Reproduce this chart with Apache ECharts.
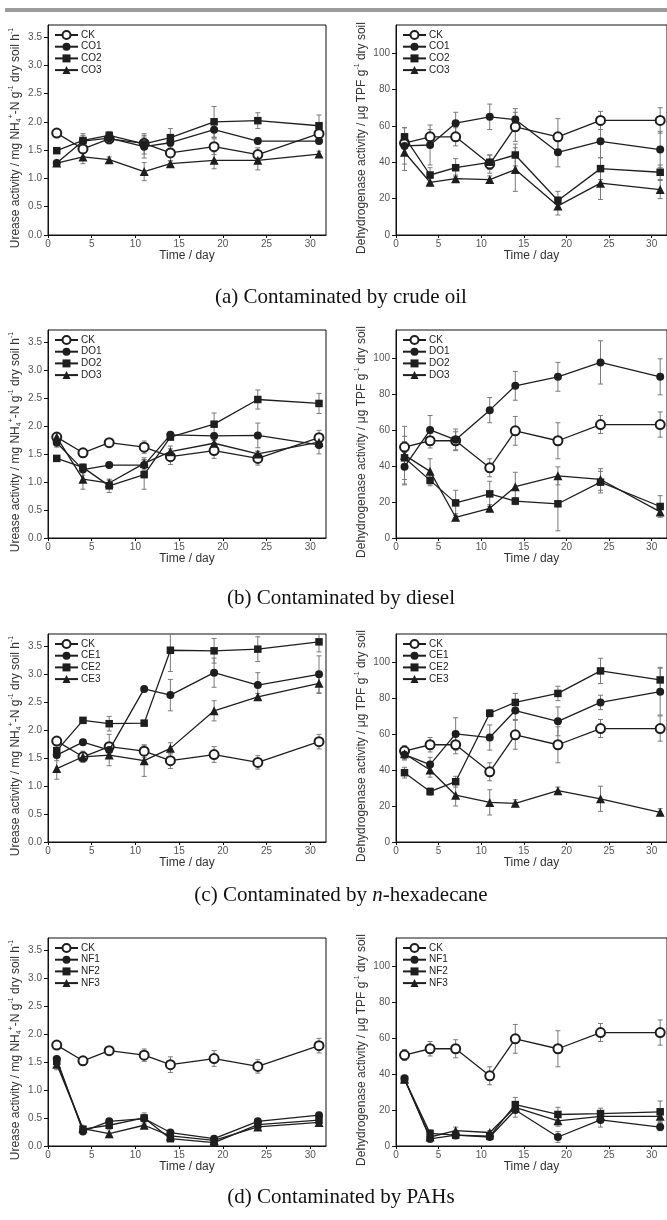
<!DOCTYPE html>
<html>
<head>
<meta charset="utf-8">
<script src="https://cdn.jsdelivr.net/npm/echarts@6/dist/echarts.min.js"></script>
<style>
  html, body { margin: 0; padding: 0; background: #fff; }
  #chart { width: 667px; height: 1220px; }
</style>
</head>
<body>
<div id="chart"></div>
<script>
// Sampling days
const days = [1, 4, 7, 11, 14, 19, 24, 31];

// Uncontaminated control (shared by every panel)
const ckUrease     = [1.80, 1.52, 1.70, 1.62, 1.45, 1.56, 1.42, 1.79];
const ckUreaseErr  = [0.04, 0.03, 0.04, 0.11, 0.14, 0.14, 0.12, 0.13];
const ckDehyd      = [50.5, 54, 54, 39, 59.5, 54, 63, 63];
const ckDehydErr   = [3, 4, 5, 5, 8, 10, 5, 7];

// (a) crude oil
const co1Urease    = [1.27, 1.66, 1.71, 1.56, 1.63, 1.86, 1.66, 1.66];
const co1UreaseErr = [0.04, 0.10, 0.10, 0.20, 0.10, 0.14, 0.05, 0.05];
const co2Urease    = [1.49, 1.67, 1.76, 1.61, 1.72, 2.00, 2.02, 1.93];
const co2UreaseErr = [0.04, 0.12, 0.07, 0.18, 0.16, 0.27, 0.14, 0.19];
const co3Urease    = [1.27, 1.38, 1.33, 1.12, 1.26, 1.32, 1.32, 1.43];
const co3UreaseErr = [0.05, 0.12, 0.05, 0.16, 0.05, 0.15, 0.17, 0.05];
const co1Dehyd     = [49, 49.5, 61.5, 65, 63.5, 45.5, 51.5, 47];
const co1DehydErr  = [10, 11, 6, 7, 6, 8, 9, 10];
const co2Dehyd     = [54, 33, 37, 40, 44, 19, 36.5, 34.5];
const co2DehydErr  = [5, 4, 5, 4, 6, 5, 6, 4];
const co3Dehyd     = [45.5, 29, 31, 30.5, 36, 16, 28.5, 25];
const co3DehydErr  = [10, 2, 2, 2, 12, 5, 9, 5];

// (b) diesel
const do1Urease    = [1.70, 1.22, 1.30, 1.30, 1.84, 1.82, 1.83, 1.66];
const do1UreaseErr = [0.08, 0.10, 0.04, 0.10, 0.05, 0.05, 0.22, 0.16];
const do2Urease    = [1.42, 1.26, 0.93, 1.13, 1.80, 2.03, 2.47, 2.40];
const do2UreaseErr = [0.03, 0.05, 0.12, 0.26, 0.05, 0.20, 0.17, 0.18];
const do3Urease    = [1.80, 1.05, 0.98, 1.33, 1.54, 1.69, 1.50, 1.71];
const do3UreaseErr = [0.05, 0.18, 0.05, 0.10, 0.10, 0.05, 0.05, 0.10];
const do1Dehyd     = [39.5, 60, 54.5, 71, 84.5, 89.5, 97.5, 89.5];
const do1DehydErr  = [10, 8, 6, 7, 8, 8, 12, 10];
const do2Dehyd     = [44.5, 32, 19.5, 24.5, 20.5, 19, 31, 17.5];
const do2DehydErr  = [12, 3, 7, 7, 2, 15, 6, 6];
const do3Dehyd     = [46, 37, 11.5, 16.5, 28.5, 34.5, 32.5, 14.5];
const do3DehydErr  = [16, 7, 2, 2, 8, 5, 6, 2];

// (c) n-hexadecane
const ce1Urease    = [1.55, 1.78, 1.64, 2.73, 2.62, 3.02, 2.80, 2.99];
const ce1UreaseErr = [0.10, 0.05, 0.28, 0.04, 0.28, 0.26, 0.22, 0.33];
const ce2Urease    = [1.63, 2.17, 2.11, 2.12, 3.42, 3.41, 3.44, 3.57];
const ce2UreaseErr = [0.10, 0.04, 0.13, 0.04, 0.38, 0.22, 0.22, 0.18];
const ce3Urease    = [1.31, 1.52, 1.55, 1.45, 1.67, 2.34, 2.59, 2.83];
const ce3UreaseErr = [0.19, 0.10, 0.05, 0.28, 0.10, 0.18, 0.06, 0.18];
const ce1Dehyd     = [48.5, 43, 60, 58, 73, 67, 77.5, 83.5];
const ce1DehydErr  = [3, 4, 9, 7, 5, 8, 4, 13];
const ce2Dehyd     = [38.5, 28, 33.5, 71.5, 77.5, 82.5, 95, 90];
const ce2DehydErr  = [3, 2, 3, 2, 5, 4, 7, 7];
const ce3Dehyd     = [49, 40, 26, 22, 21.5, 28.5, 24, 16.5];
const ce3DehydErr  = [3, 4, 6, 7, 2, 2, 7, 2];

// (d) PAHs
const nf1Urease    = [1.55, 0.26, 0.44, 0.49, 0.24, 0.13, 0.44, 0.55];
const nf1UreaseErr = [0.05, 0.03, 0.04, 0.10, 0.04, 0.03, 0.04, 0.05];
const nf2Urease    = [1.51, 0.30, 0.37, 0.50, 0.13, 0.06, 0.38, 0.46];
const nf2UreaseErr = [0.04, 0.03, 0.04, 0.06, 0.04, 0.03, 0.04, 0.04];
const nf3Urease    = [1.46, 0.31, 0.22, 0.37, 0.18, 0.10, 0.34, 0.42];
const nf3UreaseErr = [0.10, 0.03, 0.07, 0.04, 0.04, 0.03, 0.04, 0.05];
const nf1Dehyd     = [37.5, 4, 6, 5, 20, 5, 14.5, 10.5];
const nf1DehydErr  = [2, 2, 2, 1, 4, 3, 4, 2];
const nf2Dehyd     = [37, 7, 6, 5.5, 23, 17.5, 18, 19];
const nf2DehydErr  = [2, 2, 2, 1, 4, 4, 3, 6];
const nf3Dehyd     = [37, 5, 8.5, 7.5, 21.5, 14, 16.5, 16.5];
const nf3DehydErr  = [2, 2, 2, 1, 3, 3, 3, 3];

// Panel captions and treatment names
const captions = [
  '(a) Contaminated by crude oil',
  '(b) Contaminated by diesel',
  '(c) Contaminated by {i|n}-hexadecane',
  '(d) Contaminated by PAHs'
];
const treatmentNames = [
  ['CK', 'CO1', 'CO2', 'CO3'],
  ['CK', 'DO1', 'DO2', 'DO3'],
  ['CK', 'CE1', 'CE2', 'CE3'],
  ['CK', 'NF1', 'NF2', 'NF3']
];

const ureaseSets = [
  [[ckUrease, ckUreaseErr], [co1Urease, co1UreaseErr], [co2Urease, co2UreaseErr], [co3Urease, co3UreaseErr]],
  [[ckUrease, ckUreaseErr], [do1Urease, do1UreaseErr], [do2Urease, do2UreaseErr], [do3Urease, do3UreaseErr]],
  [[ckUrease, ckUreaseErr], [ce1Urease, ce1UreaseErr], [ce2Urease, ce2UreaseErr], [ce3Urease, ce3UreaseErr]],
  [[ckUrease, ckUreaseErr], [nf1Urease, nf1UreaseErr], [nf2Urease, nf2UreaseErr], [nf3Urease, nf3UreaseErr]]
];
const dehydSets = [
  [[ckDehyd, ckDehydErr], [co1Dehyd, co1DehydErr], [co2Dehyd, co2DehydErr], [co3Dehyd, co3DehydErr]],
  [[ckDehyd, ckDehydErr], [do1Dehyd, do1DehydErr], [do2Dehyd, do2DehydErr], [do3Dehyd, do3DehydErr]],
  [[ckDehyd, ckDehydErr], [ce1Dehyd, ce1DehydErr], [ce2Dehyd, ce2DehydErr], [ce3Dehyd, ce3DehydErr]],
  [[ckDehyd, ckDehydErr], [nf1Dehyd, nf1DehydErr], [nf2Dehyd, nf2DehydErr], [nf3Dehyd, nf3DehydErr]]
];

// ---- styling / layout ----
const SANS = 'Liberation Sans, Arial, sans-serif';
const SERIF = 'Liberation Serif, Times New Roman, serif';
const LINE_COLOR = '#1e1e1e';
const ERR_COLOR = '#7a7a7a';
const symbols = ['emptyCircle', 'circle', 'rect', 'triangle'];
const symbolSizes = [9, 8, 7.5, 9];

const gridTops = [25, 330, 634, 938];
const gridHeights = [210, 208, 208, 208];
const captionY = [297, 598, 895, 1197];
const leftX = 48, rightX = 396, plotW = 278;

const ureaseName = '{t|Urease activity / mg NH}{sb|4}{sp|+}{t|-N g}{sp|-1}{t| dry soil h}{sp|-1}';
const dehydName = '{t|Dehydrogenase activity / \u03bcg TPF g}{sp|-1}{t| dry soil}';
const nameRich = {
  t:  { fontSize: 12, fontFamily: SANS, color: '#333', lineHeight: 15, verticalAlign: 'middle' },
  sp: { fontSize: 7,  fontFamily: SANS, color: '#333', lineHeight: 8,  verticalAlign: 'top' },
  sb: { fontSize: 7,  fontFamily: SANS, color: '#333', lineHeight: 8,  verticalAlign: 'bottom' }
};

function renderErrorBar(params, api) {
  const x = api.value(0), y = api.value(1), e = api.value(2);
  const top = api.coord([x, y + e]);
  const bot = api.coord([x, y - e]);
  const w = 2.5;
  const st = { stroke: ERR_COLOR, lineWidth: 1 };
  return {
    type: 'group',
    children: [
      { type: 'line', shape: { x1: top[0], y1: top[1], x2: bot[0], y2: bot[1] }, style: st },
      { type: 'line', shape: { x1: top[0] - w, y1: top[1], x2: top[0] + w, y2: top[1] }, style: st },
      { type: 'line', shape: { x1: bot[0] - w, y1: bot[1], x2: bot[0] + w, y2: bot[1] }, style: st }
    ]
  };
}

const grids = [], xAxes = [], yAxes = [], series = [], legends = [], graphics = [];

graphics.push({
  type: 'rect', shape: { x: 5, y: 8, width: 662, height: 4 },
  style: { fill: '#9c9c9c' }, silent: true
});

function addPanel(row, isRight) {
  const idx = grids.length;
  const top = gridTops[row];
  const left = isRight ? rightX : leftX;
  grids.push({
    left: left, top: top, width: plotW, height: gridHeights[row],
    show: true, borderColor: '#111', borderWidth: 1, backgroundColor: 'transparent',
    containLabel: false
  });
  xAxes.push({
    gridIndex: idx, type: 'value', min: 0, max: 31.8, interval: 5,
    name: 'Time / day', nameLocation: 'middle', nameGap: 14,
    nameTextStyle: { fontSize: 12, fontFamily: SANS, color: '#333' },
    axisLine: { show: true, lineStyle: { color: '#111', width: 1 } },
    axisTick: { show: true, inside: false, length: 3, lineStyle: { color: '#111' } },
    axisLabel: { fontSize: 10, fontFamily: SANS, color: '#555', margin: 4, showMaxLabel: false },
    splitLine: { show: false }
  });
  yAxes.push({
    gridIndex: idx, type: 'value', min: 0,
    max: isRight ? 115.5 : 3.71, interval: isRight ? 20 : 0.5,
    name: isRight ? dehydName : ureaseName,
    nameLocation: 'middle', nameGap: isRight ? 27 : 25, nameRotate: 90,
    nameTextStyle: { rich: nameRich, padding: [0, 16, 0, 0] },
    axisLine: { show: true, lineStyle: { color: '#111', width: 1 } },
    axisTick: { show: true, inside: false, length: 4, lineStyle: { color: '#111' } },
    axisLabel: {
      fontSize: 10, fontFamily: SANS, color: '#555', margin: 6, showMaxLabel: false,
      formatter: isRight ? (v) => String(Math.round(v)) : (v) => v.toFixed(1)
    },
    splitLine: { show: false }
  });

  const sets = isRight ? dehydSets[row] : ureaseSets[row];
  const names = treatmentNames[row];
  sets.forEach(([vals, errs]) => {
    series.push({
      type: 'custom', xAxisIndex: idx, yAxisIndex: idx, z: 1, clip: true,
      renderItem: renderErrorBar,
      encode: { x: 0, y: 1 },
      data: days.map((d, i) => [d, vals[i], errs[i]]),
      silent: true
    });
  });
  sets.forEach(([vals], g) => {
    series.push({
      type: 'line', name: names[g], xAxisIndex: idx, yAxisIndex: idx, z: 3 + g,
      data: days.map((d, i) => [d, vals[i]]),
      symbol: symbols[g], symbolSize: symbolSizes[g], showAllSymbol: true,
      lineStyle: { color: LINE_COLOR, width: 1.3 },
      itemStyle: { color: LINE_COLOR, borderColor: LINE_COLOR, borderWidth: g === 0 ? 0.9 : 0 },
      emphasis: { disabled: true }
    });
  });
  legends.push({
    left: left + 6, top: top + 5, orient: 'vertical',
    itemWidth: 23, itemHeight: 10, itemGap: 1.7, padding: 0,
    selectedMode: false,
    data: names,
    textStyle: { fontSize: 10, fontFamily: SANS, color: '#222', padding: [0, 0, 0, -2] }
  });
}

for (let r = 0; r < 4; r++) {
  addPanel(r, false);
  addPanel(r, true);
  graphics.push({
    type: 'text', x: 341, y: captionY[r], silent: true,
    style: {
      text: captions[r], align: 'center', verticalAlign: 'middle',
      fontSize: 21, fontFamily: SERIF, fill: '#111',
      rich: { i: { fontSize: 21, fontFamily: SERIF, fontStyle: 'italic', fill: '#111' } }
    }
  });
}

const chart = echarts.init(document.getElementById('chart'), null, { renderer: 'canvas' });
chart.setOption({
  animation: false,
  backgroundColor: '#fff',
  grid: grids,
  xAxis: xAxes,
  yAxis: yAxes,
  legend: legends,
  graphic: graphics,
  series: series
});
</script>
</body>
</html>
